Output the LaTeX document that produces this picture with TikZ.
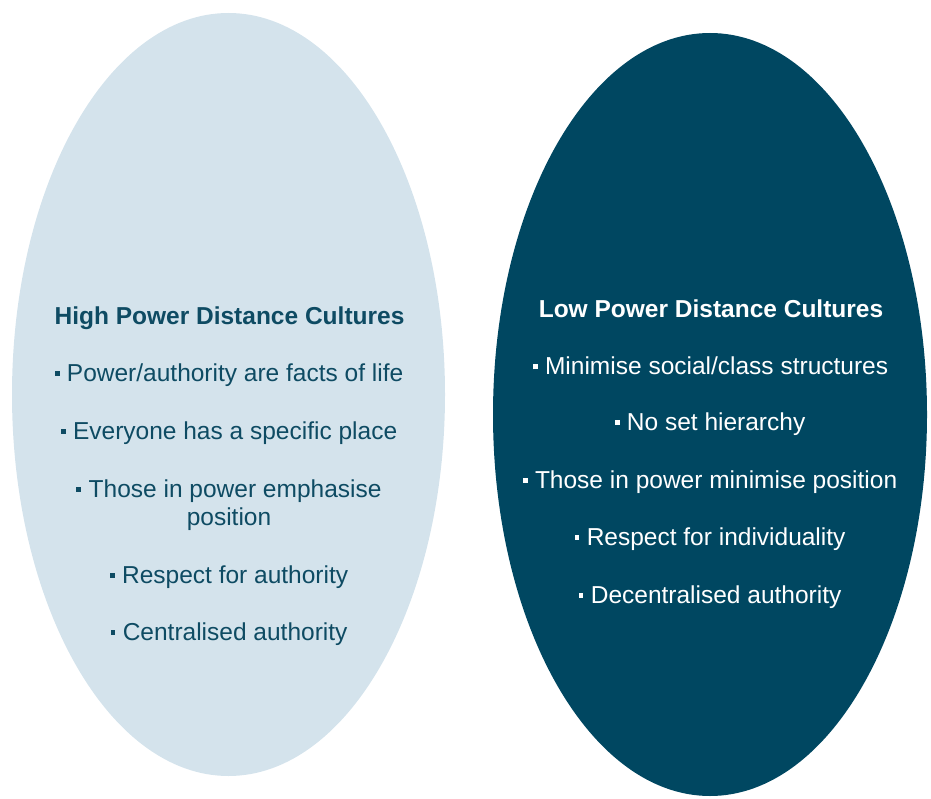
\documentclass[tikz,border=0pt]{standalone}
\usepackage{fontspec}
\setmainfont{Liberation Sans}
\definecolor{paleblue}{HTML}{D4E3EC}
\definecolor{deepteal}{HTML}{004761}
\definecolor{inkteal}{HTML}{0E4B63}
\newcommand{\sqbul}{\rule[0.22em]{0.2em}{0.2em}\hspace{0.3em}}
\begin{document}
\begin{tikzpicture}[x=1pt,y=-1pt,
  lefttext/.style={text=inkteal,font=\fontsize{24.5}{28}\selectfont,align=center,inner sep=0pt},
  righttext/.style={text=white,font=\fontsize{24.5}{28}\selectfont,align=center,inner sep=0pt},
  heading/.style={font=\fontsize{24.5}{28}\selectfont\bfseries}]
\useasboundingbox (0,0) rectangle (931,799);
% the two ovals
\fill[paleblue] (228.5,394.5) ellipse [x radius=216.5, y radius=381.5];
\fill[deepteal] (710,414.5) ellipse [x radius=217, y radius=381.5];
% high power distance
\node[lefttext,heading] (hT) at (229.5,318) {High Power Distance Cultures};
\node[lefttext] (h1) at (229,375) {\sqbul Power/authority are facts of life};
\node[lefttext] (h2) at (229,433) {\sqbul Everyone has a specific place};
\node[lefttext] (h3) at (229,505) {\sqbul Those in power emphasise\\position};
\node[lefttext] (h4) at (229,577) {\sqbul Respect for authority};
\node[lefttext] (h5) at (229,634) {\sqbul Centralised authority};
% low power distance
\node[righttext,heading] (lT) at (711,309) {Low Power Distance Cultures};
\node[righttext] (l1) at (710.5,366) {\sqbul Minimise social/class structures};
\node[righttext] (l2) at (710,424) {\sqbul No set hierarchy};
\node[righttext] (l3) at (710,482) {\sqbul Those in power minimise position};
\node[righttext] (l4) at (710,539) {\sqbul Respect for individuality};
\node[righttext] (l5) at (710,597) {\sqbul Decentralised authority};
\end{tikzpicture}
\end{document}
